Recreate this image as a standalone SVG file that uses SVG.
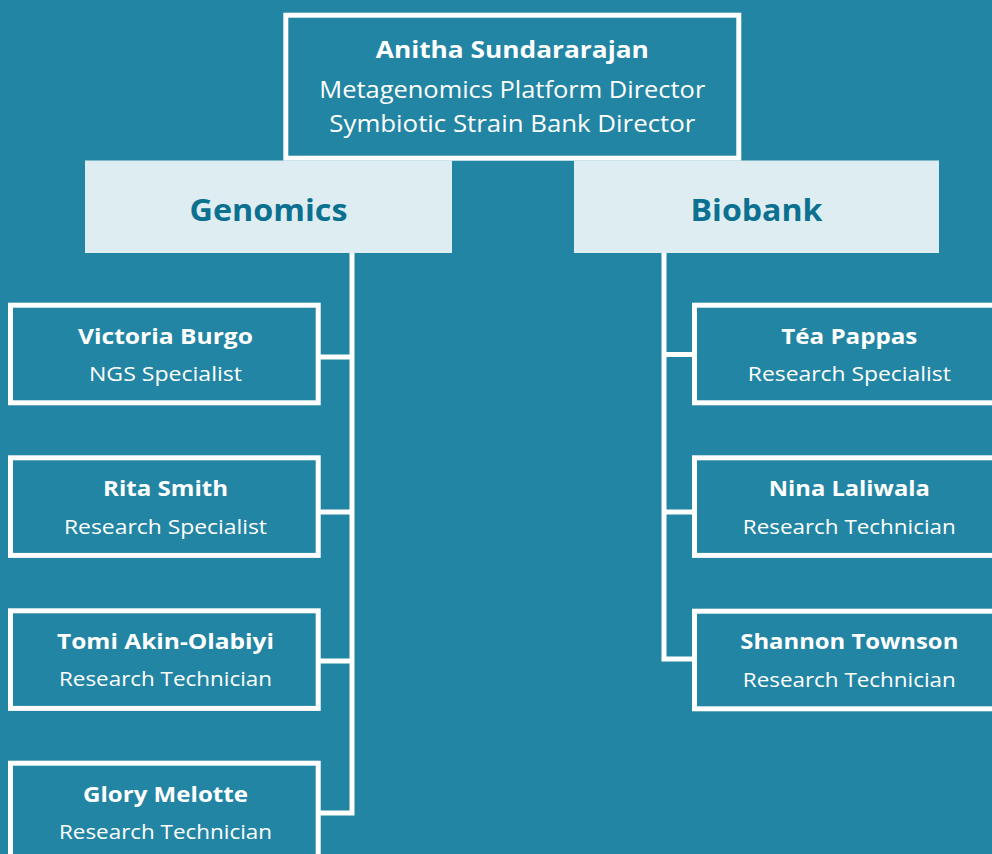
<svg xmlns="http://www.w3.org/2000/svg" width="992" height="854" viewBox="0 0 992 854">
  <style>
    .bg { fill: #2285a3; }
    .box { fill: #2285a3; stroke: #ffffff; stroke-width: 5; }
    .dept { fill: #deedf2; }
    .wire { fill: none; stroke: #ffffff; stroke-width: 5; stroke-linejoin: miter; stroke-linecap: butt; }
    text { font-family: "Open Sans", "Liberation Sans", sans-serif; text-anchor: middle; fill: #ffffff; }
    .name { font-weight: 700; font-size: 22px; }
    .role { font-weight: 400; font-size: 20px; }
    .lead { font-weight: 700; font-size: 24px; }
    .lead-role { font-weight: 400; font-size: 23px; }
    .dept-label { font-weight: 700; font-size: 31px; fill: #0c7191; }
  </style>

  <rect class="bg" x="0" y="0" width="992" height="854"/>

  <!-- connectors -->
  <g id="connectors">
    <path class="wire" d="M352 253 V813 H318"/>
    <path class="wire" d="M352 357 H318"/>
    <path class="wire" d="M352 512 H318"/>
    <path class="wire" d="M352 661 H318"/>
    <path class="wire" d="M664 253 V659 H694"/>
    <path class="wire" d="M664 354.5 H694"/>
    <path class="wire" d="M664 512 H694"/>
  </g>

  <!-- director -->
  <g id="director">
    <rect class="box" x="285.8" y="15.2" width="453" height="143"/>
    <text class="lead" x="512.3" y="58" textLength="273" lengthAdjust="spacingAndGlyphs">Anitha Sundararajan</text>
    <text class="lead-role" x="512.3" y="98" textLength="386" lengthAdjust="spacingAndGlyphs">Metagenomics Platform Director</text>
    <text class="lead-role" x="512.3" y="132" textLength="366" lengthAdjust="spacingAndGlyphs">Symbiotic Strain Bank Director</text>
  </g>

  <!-- departments -->
  <g id="genomics">
    <rect class="dept" x="85" y="160.5" width="367" height="92.5"/>
    <text class="dept-label" x="268.5" y="221" textLength="158" lengthAdjust="spacingAndGlyphs">Genomics</text>
  </g>
  <g id="biobank">
    <rect class="dept" x="574" y="160.5" width="365" height="92.5"/>
    <text class="dept-label" x="756.5" y="221" textLength="132" lengthAdjust="spacingAndGlyphs">Biobank</text>
  </g>

  <!-- genomics staff -->
  <g id="victoria-burgo">
    <rect class="box" x="10.5" y="305.2" width="307.7" height="97.6"/>
    <text class="name" x="165.5" y="343.5" textLength="175" lengthAdjust="spacingAndGlyphs">Victoria Burgo</text>
    <text class="role" x="165.5" y="381" textLength="153" lengthAdjust="spacingAndGlyphs">NGS Specialist</text>
  </g>
  <g id="rita-smith">
    <rect class="box" x="10.5" y="457.8" width="307.7" height="97.6"/>
    <text class="name" x="165.5" y="496" textLength="125" lengthAdjust="spacingAndGlyphs">Rita Smith</text>
    <text class="role" x="165.5" y="534" textLength="203" lengthAdjust="spacingAndGlyphs">Research Specialist</text>
  </g>
  <g id="tomi-akin-olabiyi">
    <rect class="box" x="10.5" y="610.8" width="307.7" height="97.6"/>
    <text class="name" x="165.5" y="648.5" textLength="217" lengthAdjust="spacingAndGlyphs">Tomi Akin-Olabiyi</text>
    <text class="role" x="165.5" y="686" textLength="213" lengthAdjust="spacingAndGlyphs">Research Technician</text>
  </g>
  <g id="glory-melotte">
    <rect class="box" x="10.5" y="763.2" width="307.7" height="97.6"/>
    <text class="name" x="165.5" y="802" textLength="165" lengthAdjust="spacingAndGlyphs">Glory Melotte</text>
    <text class="role" x="165.5" y="839" textLength="213" lengthAdjust="spacingAndGlyphs">Research Technician</text>
  </g>

  <!-- biobank staff -->
  <g id="tea-pappas">
    <rect class="box" x="694.5" y="305.2" width="309" height="97.6"/>
    <text class="name" x="849.3" y="343.5" textLength="136" lengthAdjust="spacingAndGlyphs">Téa Pappas</text>
    <text class="role" x="849.3" y="381" textLength="203" lengthAdjust="spacingAndGlyphs">Research Specialist</text>
  </g>
  <g id="nina-laliwala">
    <rect class="box" x="694.5" y="457.8" width="309" height="97.6"/>
    <text class="name" x="849.3" y="496" textLength="161" lengthAdjust="spacingAndGlyphs">Nina Laliwala</text>
    <text class="role" x="849.3" y="534" textLength="213" lengthAdjust="spacingAndGlyphs">Research Technician</text>
  </g>
  <g id="shannon-townson">
    <rect class="box" x="694.5" y="611.2" width="309" height="97.6"/>
    <text class="name" x="849.3" y="648.5" textLength="218" lengthAdjust="spacingAndGlyphs">Shannon Townson</text>
    <text class="role" x="849.3" y="686.5" textLength="213" lengthAdjust="spacingAndGlyphs">Research Technician</text>
  </g>
</svg>
